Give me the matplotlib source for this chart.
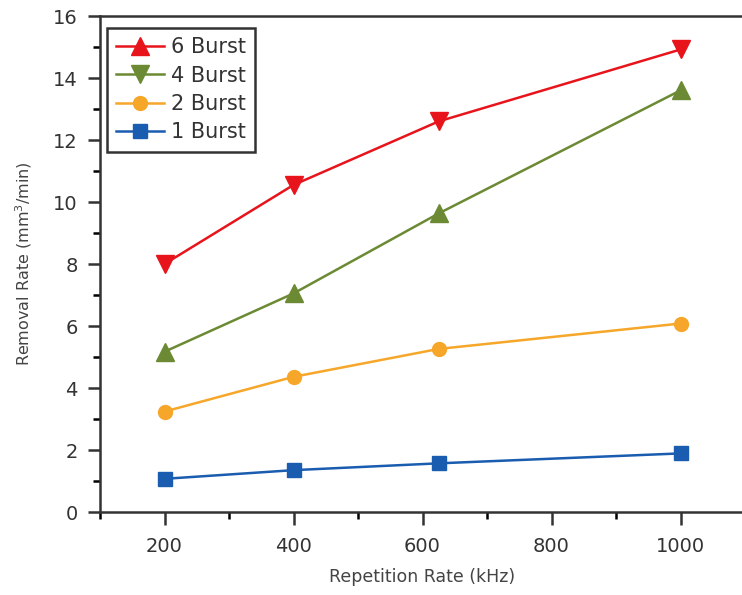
import matplotlib.pyplot as plt
from matplotlib.lines import Line2D
from matplotlib.ticker import MultipleLocator

rep_rate = [200, 400, 625, 1000]
burst6 = [8.0, 10.55, 12.6, 14.92]
burst4 = [5.17, 7.05, 9.63, 13.6]
burst2 = [3.24, 4.36, 5.26, 6.08]
burst1 = [1.07, 1.35, 1.57, 1.89]

red = '#e8141c'
green = '#6b8a33'
orange = '#f6a72a'
blue = '#1a5cb0'

plt.rcParams['font.family'] = ['DejaVu Sans']

fig = plt.figure(figsize=(7.42, 5.95), dpi=100)
ax = fig.add_axes([100/742, 83/595, 645/742, 496/595])

# markers in the data are swapped relative to the legend (as in the original)
ax.plot(rep_rate, burst6, color=red, lw=1.8, marker='v', ms=12.5)
ax.plot(rep_rate, burst4, color=green, lw=1.8, marker='^', ms=12.5)
ax.plot(rep_rate, burst2, color=orange, lw=1.8, marker='o', ms=10)
ax.plot(rep_rate, burst1, color=blue, lw=1.8, marker='s', ms=9.5)

ax.set_xlim(100, 1100)
ax.set_ylim(0, 16)
ax.xaxis.set_major_locator(MultipleLocator(200))
ax.xaxis.set_minor_locator(MultipleLocator(100))
ax.yaxis.set_major_locator(MultipleLocator(2))
ax.yaxis.set_minor_locator(MultipleLocator(1))
ax.tick_params(which='major', direction='out', length=9, width=1.8, labelsize=14, colors='#333333', pad=7)
ax.tick_params(axis='x', which='major', pad=9)
ax.tick_params(which='minor', direction='out', length=5, width=1.8)
ax.spines['right'].set_visible(False)
for s in ['left', 'bottom', 'top']:
    ax.spines[s].set_linewidth(1.8)
    ax.spines[s].set_color('#333333')

ax.set_xlabel('Repetition Rate (kHz)', fontsize=12.5, color='#444444', labelpad=9)
ax.set_ylabel('Removal Rate (mm$^3$/min)', fontsize=11.5, color='#444444', labelpad=14)

handles = [
    Line2D([], [], color=red, lw=1.8, marker='^', ms=12.5),
    Line2D([], [], color=green, lw=1.8, marker='v', ms=12.5),
    Line2D([], [], color=orange, lw=1.8, marker='o', ms=10),
    Line2D([], [], color=blue, lw=1.8, marker='s', ms=9.5),
]
labels = ['6 Burst', '4 Burst', '2 Burst', '1 Burst']
leg = ax.legend(handles, labels, loc='upper left', bbox_to_anchor=(0.011, 0.976), borderaxespad=0,
                fontsize=15, fancybox=False, edgecolor='#333333', framealpha=1,
                handlelength=2.3, labelspacing=0.4, borderpad=0.45, handletextpad=0.3)
leg.get_frame().set_linewidth(1.8)
for t in leg.get_texts():
    t.set_color('#333333')

fig.savefig('out.png', dpi=100)
